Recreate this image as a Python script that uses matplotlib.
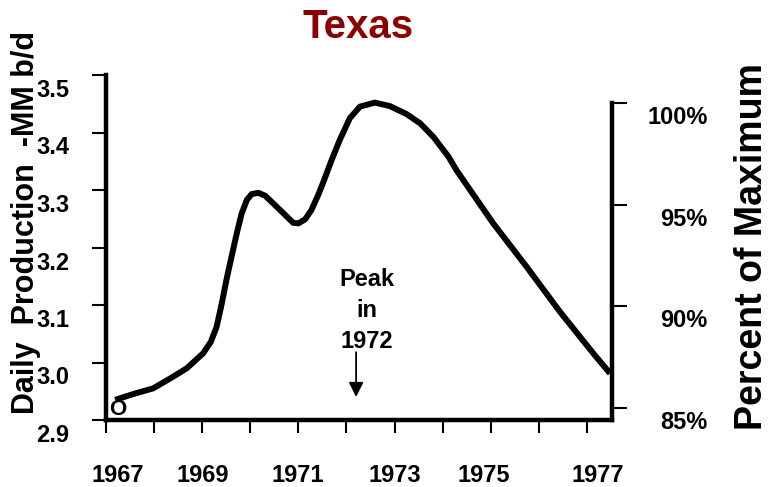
import matplotlib
matplotlib.use("Agg")
import matplotlib.pyplot as plt
import matplotlib.transforms as mtransforms

plt.rcParams['font.family'] = ['Liberation Sans', 'DejaVu Sans']
plt.rcParams['font.weight'] = 'bold'

# production curve (year, MM b/d)
years = [1967.19, 1967.6, 1967.98, 1968.35, 1968.68, 1969.02, 1969.18, 1969.30,
         1969.40, 1969.51, 1969.61, 1969.72, 1969.82, 1969.93, 1970.03, 1970.17,
         1970.31, 1970.51, 1970.72, 1970.89, 1971.00, 1971.14, 1971.27, 1971.41,
         1971.52, 1971.69, 1971.86, 1972.07, 1972.28, 1972.59, 1972.90, 1973.25,
         1973.53, 1973.80, 1974.12, 1974.29, 1975.05, 1975.74, 1976.44, 1977.13,
         1977.48]
prod = [2.935, 2.946, 2.955, 2.973, 2.990, 3.016, 3.036, 3.062,
        3.100, 3.146, 3.184, 3.225, 3.259, 3.283, 3.293, 3.295,
        3.290, 3.274, 3.257, 3.243, 3.242, 3.249, 3.265, 3.291,
        3.314, 3.352, 3.387, 3.425, 3.445, 3.452, 3.446, 3.432,
        3.416, 3.393, 3.358, 3.334, 3.242, 3.167, 3.088, 3.016,
        2.981]

year_ticks = list(range(1967, 1978))
year_labels = ["1967", "", "1969", "", "1971", "", "1973", "", "1975", "", "1977"]
left_ticks = [2.9, 3.0, 3.1, 3.2, 3.3, 3.4, 3.5]
pct_ticks = [85, 90, 95, 100]
pct_labels = ["85%", "90%", "95%", "100%"]

peak_year = 1972.2

W, H = 772, 487
fig = plt.figure(figsize=(W / 100, H / 100), dpi=100)
ax = fig.add_axes([106 / W, 1 - 420 / H, 506 / W, 345 / H])

ax.plot(years, prod, color="black", lw=4.3, solid_joinstyle="round",
        solid_capstyle="butt", zorder=3)
ax.set_xlim(1967, 1977.52)
ax.set_ylim(2.9, 3.5)

for s in ["top", "right"]:
    ax.spines[s].set_visible(False)
for s in ["left", "bottom"]:
    ax.spines[s].set_linewidth(3.2)

ax.set_xticks(year_ticks)
ax.set_xticklabels(year_labels)
ax.set_yticks(left_ticks)
ax.set_yticklabels([f"{v:.1f}" for v in left_ticks])
ax.tick_params(axis="x", length=9.5, width=1.5, pad=22, labelsize=17)
ax.tick_params(axis="y", length=10, width=1.5, pad=16.5, labelsize=17)

# hand placed label shifts (pixels)
x_shift = [12, 0, 1, 0, -1, 0, 0, 0, -7, 0, 11]
for lbl, dx in zip(ax.get_xticklabels(), x_shift):
    lbl.set_transform(lbl.get_transform() + mtransforms.Affine2D().translate(dx, 0))
for lbl in ax.get_yticklabels():
    lbl.set_transform(lbl.get_transform() + mtransforms.Affine2D().translate(0, -13))

ax2 = ax.twinx()
ax2.set_ylim(84.43, 101.36)
for s in ["top", "left", "bottom"]:
    ax2.spines[s].set_visible(False)
ax2.spines["right"].set_linewidth(3.2)
ax2.spines["right"].set_bounds(84.43, 100)
ax2.set_yticks(pct_ticks)
ax2.set_yticklabels(pct_labels)
ax2.tick_params(axis="y", length=11, width=1.5, pad=58, labelsize=17)
for lbl in ax2.get_yticklabels():
    lbl.set_horizontalalignment("right")
    lbl.set_transform(lbl.get_transform() + mtransforms.Affine2D().translate(0, -12))

fig.text(26 / W, 1 - 222 / H, "Daily  Production  -MM b/d", rotation=90,
         fontsize=22, ha="center", va="center")
fig.text(752 / W, 1 - 247 / H, "Percent of Maximum", rotation=90,
         fontsize=27, ha="center", va="center")

fig.text(358 / W, 1 - 27 / H, "Texas", fontsize=29, color="#8b0000",
         ha="center", va="center")

ax.text(1967.25, 2.9, "O", fontsize=16, ha="center", va="bottom", zorder=1)

ax.annotate("", xy=(peak_year, 2.94), xytext=(peak_year, 3.018),
            arrowprops=dict(arrowstyle="-|>", color="black", lw=1.3,
                            mutation_scale=22, shrinkA=0, shrinkB=0))
ax.text(1972.43, 3.091, "Peak\nin\n1972", fontsize=17, ha="center", va="center",
        linespacing=1.45)

fig.savefig("out.png", dpi=100)
